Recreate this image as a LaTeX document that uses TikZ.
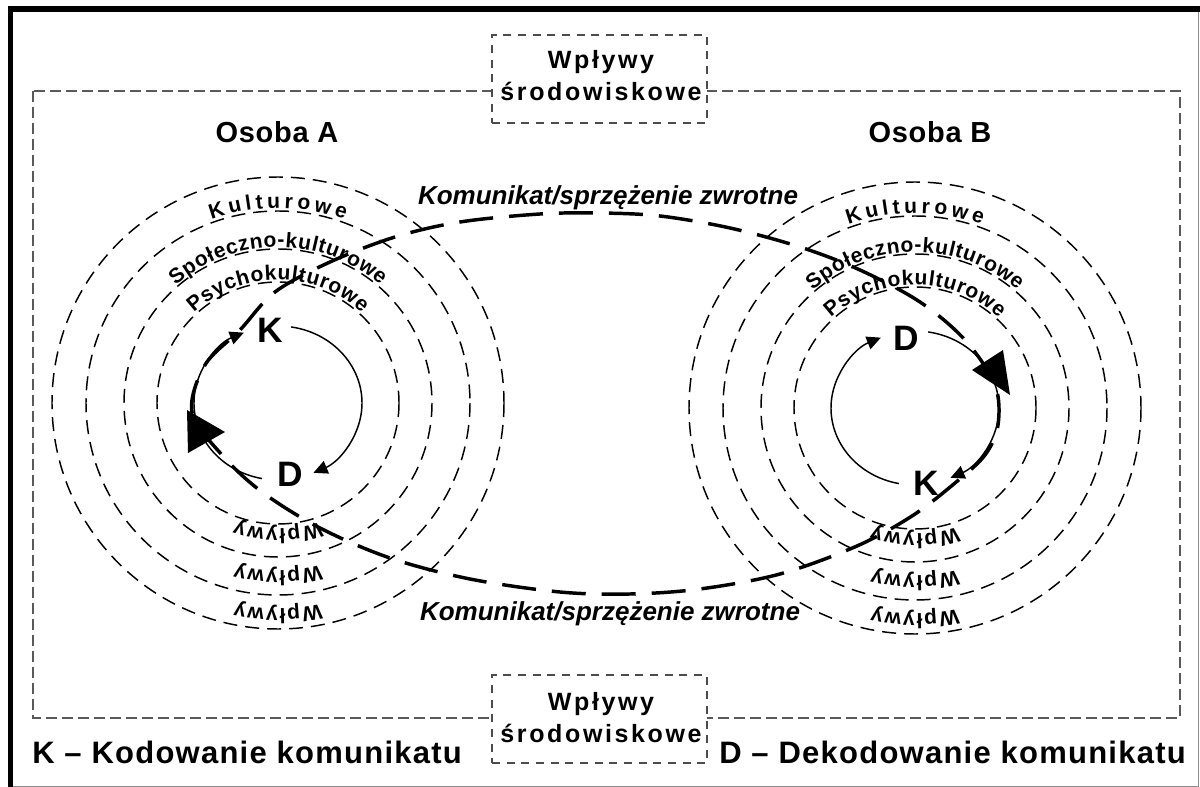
\documentclass[tikz,border=0pt]{standalone}
\usepackage{fontspec}
\setmainfont{Liberation Sans}
\newfontfamily\boxfont[LetterSpace=10.5]{Liberation Sans}
\newfontfamily\osobafont[LetterSpace=2.5]{Liberation Sans}
\newfontfamily\legfont[LetterSpace=4]{Liberation Sans}
\usetikzlibrary{decorations.text,arrows.meta,calc}
\newcommand\ringfont{\bfseries\fontsize{15.75pt}{15.75pt}\selectfont}
\newcommand\ringlabel[5]{% center, start, end, radius, text
  \path[decorate, decoration={text along path, text align=fit to path, text={|\ringfont|#5}}]
    ($(#1)+(#2:#4)$) arc[start angle=#2, end angle=#3, radius=#4];}
\newcommand\ringgroup[3]{% name, cx, cy
  \coordinate (#1) at (#2,#3);
  \foreach \rr in {226,192,154,121} { \draw[ring] (#1) circle[radius=\rr]; }
  \ringlabel{#1}{250}{290}{195}{Kulturowe}
  \ringlabel{#1}{229}{311}{156}{Społeczno-kulturowe}
  \ringlabel{#1}{227}{313}{123}{Psychokulturowe}
  \ringlabel{#1}{70.4}{109.6}{126}{Wpływy}
  \ringlabel{#1}{75.3}{104.7}{168}{Wpływy}
  \ringlabel{#1}{78}{102}{206}{Wpływy}
  \draw[innerarc, -{Triangle[length=10.5pt,width=10pt]}] ($(#1)+(-81:84 and 77)$) arc[start angle=-81, end angle=65, x radius=84, y radius=77];
  \draw[innerarc, -{Triangle[length=10.5pt,width=10pt]}] ($(#1)+(101:84 and 77)$) arc[start angle=101, end angle=246, x radius=84, y radius=77];
}
\begin{document}
\begin{tikzpicture}[x=0.75pt,y=-0.75pt,
  ring/.style={line width=1.1pt, dash pattern=on 10.5pt off 6pt},
  innerarc/.style={line width=1.1pt},
  bigloop/.style={line width=2.6pt, dash pattern=on 25.5pt off 12pt},
  envrect/.style={draw=black!65, line width=1.5pt, dash pattern=on 8pt off 4pt},
  envbox/.style={draw=black!70, fill=white, line width=1.5pt, dash pattern=on 6pt off 5pt,
    minimum width=161.25pt, minimum height=66pt, inner sep=0pt},
  boxtxt/.style={font=\boxfont\bfseries\fontsize{18.75pt}{18.75pt}\selectfont, inner sep=0pt, anchor=base},
  osoba/.style={font=\osobafont\bfseries\fontsize{21.75pt}{21.75pt}\selectfont, inner sep=0pt, anchor=base},
  legend/.style={font=\legfont\bfseries\fontsize{23.25pt}{23.25pt}\selectfont, inner sep=0pt, anchor=base west},
  komtxt/.style={font=\bfseries\itshape\fontsize{19.5pt}{19.5pt}\selectfont, inner sep=0pt, anchor=base},
  kd/.style={font=\bfseries\fontsize{26.5pt}{26.5pt}\selectfont, inner sep=0pt},
  bigtip/.style={fill=black}
]
\useasboundingbox (0,0) rectangle (1200,787);
% frame
\draw[black!45, line width=0.75pt] (10.5,9.5) -- (1198.5,9.5) -- (1198.5,786.5) -- (10.5,786.5);
\draw[line width=4.5pt] (8,9.5) -- (1200,9.5);
\draw[line width=3.75pt] (10.5,7) -- (10.5,787);
% environment rectangle
\draw[envrect] (33,91) rectangle (1180,718);
% boxes
\node[envbox] (envtop) at (599.5,79) {};
\node[boxtxt] (envtopA) at (601,69) {Wpływy};
\node[boxtxt] (envtopB) at (601,101) {środowiskowe};
\node[envbox] (envbot) at (599.5,719) {};
\node[boxtxt] (envbotA) at (601,710) {Wpływy};
\node[boxtxt] (envbotB) at (601,742) {środowiskowe};
% persons
\node[osoba] (osA) at (277,143) {Osoba A};
\node[osoba] (osB) at (930,143) {Osoba B};
% ring groups
\ringgroup{gA}{278}{403}
\ringgroup{gB}{915}{408}
% big loop
\draw[bigloop] plot[smooth cycle, tension=0.55] coordinates {
 (192,412) (205,365) (240,330) (275,292) (330,262) (395,237) (460,222) (540,214)
 (600,213) (660,216) (730,228) (800,247) (860,270) (920,302) (965,340) (995,385)
 (998,425) (985,455) (955,483) (912,516) (857,546) (780,574) (700,589) (630,594)
 (560,592) (470,579) (390,558) (320,528) (262,492) (222,455)};
\fill[bigtip] (1010,395) -- (972,370) -- (1003,350) -- cycle;
\fill[bigtip] (187,410) -- (188,453) -- (225,432) -- cycle;
% K / D
\node[kd] (KA) at (270,330) {K};
\node[kd] (DA) at (290,474) {D};
\node[kd] (DB) at (906,338) {D};
\node[kd] (KB) at (926,483) {K};
% message labels
\node[komtxt] (komTop) at (608,205) {Komunikat/sprzężenie zwrotne};
\node[komtxt] (komBot) at (610,620) {Komunikat/sprzężenie zwrotne};
% legend
\node[legend] (legK) at (32,763) {K – Kodowanie komunikatu};
\node[legend] (legD) at (719,763) {D – Dekodowanie komunikatu};
\end{tikzpicture}
\end{document}
